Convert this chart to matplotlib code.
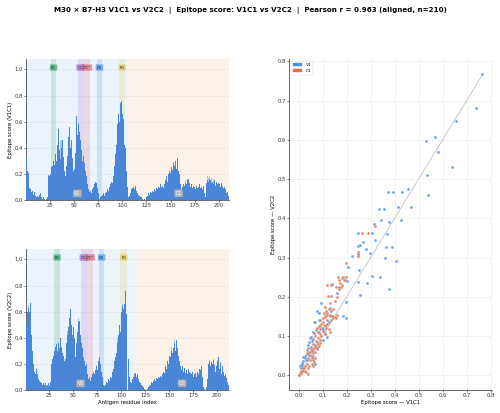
import matplotlib.pyplot as plt
from matplotlib.patches import Patch
import numpy as np

# per-residue epitope scores
v1c1_score = [
    0.33, 0.22, 0.21, 0.09, 0.08, 0.06, 0.07, 0.04, 0.06, 0.03,
    0.02, 0.03, 0.02, 0.04, 0.05, 0.03, 0.02, 0.01, 0.02, 0.01,
    0.00, 0.01, 0.02, 0.19, 0.18, 0.20, 0.25, 0.26, 0.30, 0.27,
    0.35, 0.30, 0.42, 0.54, 0.38, 0.31, 0.40, 0.46, 0.33, 0.22,
    0.18, 0.26, 0.34, 0.48, 0.56, 0.44, 0.40, 0.46, 0.32, 0.22,
    0.24, 0.36, 0.64, 0.50, 0.58, 0.52, 0.46, 0.38, 0.30, 0.34,
    0.28, 0.22, 0.18, 0.12, 0.08, 0.06, 0.07, 0.05, 0.08, 0.10,
    0.12, 0.14, 0.13, 0.09, 0.05, 0.03, 0.01, 0.02, 0.03, 0.04,
    0.05, 0.03, 0.05, 0.06, 0.08, 0.07, 0.10, 0.12, 0.14, 0.13,
    0.18, 0.26, 0.35, 0.42, 0.58, 0.66, 0.60, 0.74, 0.76, 0.66,
    0.62, 0.42, 0.40, 0.22, 0.10, 0.05, 0.02, 0.03, 0.05, 0.08,
    0.09, 0.10, 0.08, 0.11, 0.07, 0.05, 0.04, 0.03, 0.02, 0.02,
    0.01, 0.00, 0.01, 0.00, 0.02, 0.03, 0.05, 0.04, 0.06, 0.05,
    0.07, 0.06, 0.08, 0.07, 0.09, 0.10, 0.08, 0.10, 0.09, 0.12,
    0.10, 0.11, 0.09, 0.12, 0.15, 0.18, 0.14, 0.20, 0.22, 0.21,
    0.25, 0.23, 0.28, 0.26, 0.30, 0.24, 0.32, 0.22, 0.20, 0.12,
    0.08, 0.10, 0.12, 0.11, 0.13, 0.14, 0.12, 0.15, 0.16, 0.13,
    0.10, 0.12, 0.09, 0.11, 0.10, 0.08, 0.11, 0.09, 0.10, 0.12,
    0.09, 0.10, 0.08, 0.11, 0.05, 0.02, 0.13, 0.15, 0.14, 0.16,
    0.15, 0.13, 0.14, 0.12, 0.15, 0.13, 0.11, 0.14, 0.12, 0.13,
    0.12, 0.10, 0.13, 0.11, 0.09, 0.10, 0.08, 0.05, 0.06, 0.03,
]
v2c2_score = [
    0.52, 0.60, 0.63, 0.60, 0.67, 0.42, 0.30, 0.20, 0.14, 0.12,
    0.16, 0.10, 0.12, 0.08, 0.07, 0.06, 0.05, 0.04, 0.05, 0.04,
    0.05, 0.03, 0.04, 0.05, 0.03, 0.06, 0.20, 0.24, 0.26, 0.30,
    0.33, 0.35, 0.30, 0.36, 0.32, 0.38, 0.40, 0.33, 0.28, 0.26,
    0.22, 0.24, 0.36, 0.42, 0.48, 0.55, 0.62, 0.50, 0.42, 0.48,
    0.40, 0.25, 0.36, 0.44, 0.52, 0.53, 0.42, 0.36, 0.30, 0.32,
    0.25, 0.22, 0.18, 0.20, 0.12, 0.08, 0.10, 0.07, 0.10, 0.12,
    0.14, 0.12, 0.15, 0.18, 0.15, 0.22, 0.25, 0.20, 0.14, 0.10,
    0.04, 0.03, 0.05, 0.04, 0.06, 0.05, 0.08, 0.07, 0.10, 0.09,
    0.14, 0.16, 0.22, 0.25, 0.28, 0.36, 0.42, 0.50, 0.44, 0.60,
    0.64, 0.62, 0.66, 0.76, 0.58, 0.42, 0.30, 0.24, 0.10, 0.06,
    0.05, 0.08, 0.10, 0.12, 0.13, 0.10, 0.12, 0.08, 0.06, 0.05,
    0.04, 0.03, 0.02, 0.01, 0.00, 0.00, 0.01, 0.02, 0.03, 0.05,
    0.04, 0.06, 0.05, 0.07, 0.08, 0.07, 0.09, 0.08, 0.10, 0.09,
    0.11, 0.10, 0.12, 0.14, 0.13, 0.18, 0.16, 0.22, 0.20, 0.26,
    0.25, 0.30, 0.28, 0.34, 0.32, 0.36, 0.30, 0.38, 0.32, 0.26,
    0.22, 0.18, 0.15, 0.18, 0.14, 0.17, 0.13, 0.15, 0.12, 0.16,
    0.14, 0.13, 0.12, 0.14, 0.10, 0.12, 0.11, 0.13, 0.10, 0.14,
    0.12, 0.16, 0.15, 0.18, 0.10, 0.02, 0.01, 0.00, 0.02, 0.08,
    0.20, 0.22, 0.18, 0.21, 0.20, 0.23, 0.19, 0.14, 0.18, 0.22,
    0.20, 0.25, 0.16, 0.21, 0.12, 0.18, 0.14, 0.11, 0.12, 0.09,
    0.06, 0.04,
]
# lighter (unsmoothed) bars that poke above the main ones
v1c1_raw_res = [36, 37, 55, 153, 165, 168, 188, 189, 190, 192, 194, 196]
v1c1_raw_val = [0.45, 0.46, 0.60, 0.29, 0.15, 0.16, 0.18, 0.17, 0.18, 0.17, 0.16, 0.17]
v2c2_raw_res = [3, 11, 44, 55, 96, 101, 152, 156, 192, 196, 200, 202]
v2c2_raw_val = [0.65, 0.17, 0.45, 0.55, 0.40, 0.66, 0.33, 0.38, 0.23, 0.24, 0.23, 0.25]

# domains and loops (residue ranges)
v1c1_domains = [('V1', 0.5, 106.5), ('C1', 106.5, 210.5)]
v2c2_domains = [('V2', 0.5, 114.5), ('C2', 114.5, 212.5)]
loop_names = ['BC', "CC'", "C'C''", 'DE', 'FG']
loop_colors = ['#2ca25f', '#9a5fd0', '#e06070', '#3a8ee6', '#e8c53a']
v1c1_loops = [(26, 32), (54, 60), (60, 67), (74, 79), (97, 103)]
v2c2_loops = [(30, 36), (58, 64), (64, 70), (77, 82), (99, 106)]

# aligned scatter points (V1C1 score, V2C2 score)
v_x = [0.765, 0.740, 0.657, 0.569, 0.531, 0.579, 0.641, 0.534, 0.541, 0.374,
       0.395, 0.433, 0.458, 0.337, 0.355, 0.414, 0.469, 0.342, 0.377, 0.427,
       0.313, 0.249, 0.307, 0.367, 0.320, 0.246, 0.257, 0.270, 0.249, 0.280,
       0.298, 0.363, 0.390, 0.360, 0.405, 0.224, 0.206, 0.252, 0.306, 0.338,
       0.285, 0.249, 0.256, 0.378, 0.197, 0.187, 0.199, 0.180, 0.200, 0.190,
       0.170, 0.140, 0.160, 0.092, 0.077, 0.083, 0.129, 0.134, 0.110, 0.130,
       0.064, 0.067, 0.090, 0.096, 0.100, 0.071, 0.083, 0.103, 0.110, 0.118,
       0.047, 0.053, 0.060, 0.040, 0.050, 0.068, 0.076, 0.037, 0.047, 0.057,
       0.075, 0.026, 0.034, 0.020, 0.025, 0.030, 0.013, 0.020, 0.008, 0.013,
       0.005, 0.045, 0.062, 0.085, 0.120, 0.058, 0.100, 0.070, 0.035, 0.015,
       0.010, 0.042, 0.055, 0.115, 0.125]
v_y = [0.767, 0.681, 0.647, 0.608, 0.598, 0.569, 0.531, 0.510, 0.459, 0.468,
       0.467, 0.467, 0.474, 0.423, 0.424, 0.430, 0.428, 0.395, 0.390, 0.395,
       0.385, 0.362, 0.362, 0.360, 0.345, 0.330, 0.333, 0.339, 0.310, 0.322,
       0.313, 0.327, 0.327, 0.300, 0.291, 0.305, 0.276, 0.269, 0.254, 0.250,
       0.236, 0.237, 0.206, 0.220, 0.186, 0.150, 0.147, 0.248, 0.240, 0.242,
       0.225, 0.232, 0.210, 0.184, 0.163, 0.160, 0.171, 0.164, 0.150, 0.150,
       0.137, 0.136, 0.127, 0.120, 0.118, 0.115, 0.110, 0.113, 0.107, 0.097,
       0.095, 0.097, 0.092, 0.078, 0.073, 0.078, 0.072, 0.065, 0.060, 0.065,
       0.066, 0.050, 0.055, 0.048, 0.044, 0.040, 0.032, 0.036, 0.027, 0.025,
       0.023, 0.085, 0.050, 0.140, 0.140, 0.110, 0.090, 0.030, 0.040, 0.030,
       0.020, 0.052, 0.088, 0.128, 0.135]
c_x = [0.318, 0.266, 0.291, 0.246, 0.246, 0.197, 0.166, 0.187, 0.196, 0.170,
       0.193, 0.117, 0.134, 0.172, 0.157, 0.170, 0.176, 0.121, 0.134, 0.150,
       0.160, 0.180, 0.110, 0.115, 0.120, 0.125, 0.105, 0.130, 0.140, 0.145,
       0.150, 0.135, 0.160, 0.155, 0.090, 0.095, 0.100, 0.105, 0.110, 0.115,
       0.120, 0.125, 0.130, 0.085, 0.090, 0.100, 0.108, 0.095, 0.080, 0.075,
       0.070, 0.065, 0.082, 0.088, 0.075, 0.081, 0.070, 0.078, 0.065, 0.060,
       0.050, 0.055, 0.045, 0.062, 0.070, 0.085, 0.090, 0.040, 0.035, 0.050,
       0.056, 0.060, 0.065, 0.048, 0.055, 0.044, 0.060, 0.040, 0.035, 0.070,
       0.000, 0.005, 0.008, 0.012, 0.015, 0.020, 0.025, 0.030, 0.040, 0.003,
       0.010, 0.022, 0.018, 0.100, 0.118, 0.142, 0.130, 0.112, 0.088, 0.072,
       0.058, 0.038, 0.028]
c_y = [0.381, 0.362, 0.362, 0.315, 0.303, 0.286, 0.250, 0.250, 0.250, 0.242,
       0.242, 0.231, 0.231, 0.236, 0.226, 0.220, 0.225, 0.203, 0.203, 0.190,
       0.200, 0.230, 0.175, 0.165, 0.160, 0.168, 0.160, 0.155, 0.150, 0.145,
       0.148, 0.140, 0.155, 0.145, 0.140, 0.132, 0.135, 0.128, 0.125, 0.120,
       0.130, 0.118, 0.110, 0.125, 0.118, 0.112, 0.105, 0.100, 0.110, 0.120,
       0.100, 0.108, 0.095, 0.090, 0.085, 0.080, 0.075, 0.070, 0.070, 0.066,
       0.068, 0.062, 0.060, 0.058, 0.060, 0.075, 0.082, 0.070, 0.058, 0.050,
       0.045, 0.040, 0.035, 0.038, 0.030, 0.025, 0.025, 0.020, 0.030, 0.045,
       0.000, 0.003, 0.008, 0.010, 0.012, 0.010, 0.012, 0.008, 0.004, 0.002,
       0.005, 0.018, 0.020, 0.145, 0.155, 0.170, 0.185, 0.148, 0.105, 0.088,
       0.080, 0.045, 0.025]

BAR_DARK = '#4a86d8'
BAR_LIGHT = '#a8c5ee'
V_BG = '#e9f2fc'
C_BG = '#fdf1e6'
SC_BLUE = '#4a90e2'
SC_ORANGE = '#e0704a'

plt.rcParams['font.family'] = 'DejaVu Sans'
plt.rcParams['axes.edgecolor'] = '#555555'
plt.rcParams['xtick.color'] = '#333333'
plt.rcParams['ytick.color'] = '#333333'

fig = plt.figure(figsize=(16, 13.216), dpi=31.25)
fig.suptitle('M30 \u00d7 B7-H3 V1C1 vs V2C2  |  Epitope score: V1C1 vs V2C2  |  Pearson r = 0.963 (aligned, n=210)',
             fontsize=16.5, fontweight='bold', y=0.982)


def profile(ax, scores, raw_res, raw_val, domains, loops, ylabel):
    n = len(scores)
    res = np.arange(1, n + 1)
    for i, (name, a, b) in enumerate(domains):
        ax.axvspan(a, b, color=V_BG if i == 0 else C_BG, alpha=0.9, lw=0, zorder=0)
    for name, (a, b), col in zip(loop_names, loops, loop_colors):
        ax.axvspan(a, b, color=col, alpha=0.18, lw=0, zorder=1)
        ax.text((a + b) / 2, 1.015, name, ha='center', va='center', fontsize=8.5, color='#222222',
                bbox=dict(boxstyle='round,pad=0.25', fc=col, ec=col, alpha=0.6), zorder=5)
    ax.bar(raw_res, raw_val, width=1.0, color=BAR_LIGHT, lw=0, zorder=2)
    ax.bar(res, scores, width=1.0, color=BAR_DARK, lw=0, zorder=3)
    for name, a, b in domains:
        ax.text((a + b) / 2, 0.05, name, ha='center', va='center', fontsize=10.5, color='white',
                bbox=dict(boxstyle='round,pad=0.25', fc='#bdbdbd', ec='#999999', alpha=0.9), zorder=5)
    ax.set_xlim(0.5, domains[-1][2])
    ax.set_ylim(0, 1.08)
    ax.set_xticks([25, 50, 75, 100, 125, 150, 175, 200])
    ax.set_yticks([0.0, 0.2, 0.4, 0.6, 0.8, 1.0])
    ax.tick_params(labelsize=12, width=1.5, length=4)
    ax.grid(axis='y', color='#dddddd', lw=1.5, alpha=0.6, zorder=1)
    ax.set_axisbelow(True)
    ax.set_ylabel(ylabel, fontsize=12.5)
    for s in ['top', 'right']:
        ax.spines[s].set_visible(False)
    for s in ['left', 'bottom']:
        ax.spines[s].set_linewidth(2)


ax1 = fig.add_axes([0.052, 0.516, 0.406, 0.341])
profile(ax1, v1c1_score, v1c1_raw_res, v1c1_raw_val, v1c1_domains, v1c1_loops, 'Epitope score (V1C1)')

ax2 = fig.add_axes([0.052, 0.056, 0.406, 0.341])
profile(ax2, v2c2_score, v2c2_raw_res, v2c2_raw_val, v2c2_domains, v2c2_loops, 'Epitope score (V2C2)')
ax2.set_xlabel('Antigen residue index', fontsize=12.5)

# scatter of aligned residues
ax3 = fig.add_axes([0.578, 0.056, 0.406, 0.801])
top = max(max(v_x), max(v_y))
ax3.plot([0, top], [0, top], color='#b0b0b0', lw=1.5, zorder=2)
ax3.scatter(v_x, v_y, s=45, color=SC_BLUE, alpha=0.85, edgecolors='white', linewidths=0.5, zorder=3)
ax3.scatter(c_x, c_y, s=45, color=SC_ORANGE, alpha=0.85, edgecolors='white', linewidths=0.5, zorder=3)
ax3.set_xlim(-0.04, 0.806)
ax3.set_ylim(-0.037, 0.806)
ax3.set_xticks(np.arange(0, 0.81, 0.1))
ax3.set_yticks(np.arange(0, 0.81, 0.1))
ax3.tick_params(labelsize=12, width=1.5, length=4)
ax3.grid(color='#e6e6e6', lw=1.5, alpha=0.7)
ax3.set_axisbelow(True)
ax3.set_xlabel('Epitope score \u2014 V1C1', fontsize=12.5)
ax3.set_ylabel('Epitope score \u2014 V2C2', fontsize=12.5)
for s in ['top', 'right']:
    ax3.spines[s].set_visible(False)
for s in ['left', 'bottom']:
    ax3.spines[s].set_linewidth(2)
ax3.legend(handles=[Patch(color=SC_BLUE, label='V1'), Patch(color=SC_ORANGE, label='C1')],
           loc='upper left', fontsize=10, frameon=True, handlelength=2.2)

plt.savefig('out.png', dpi=31.25)
